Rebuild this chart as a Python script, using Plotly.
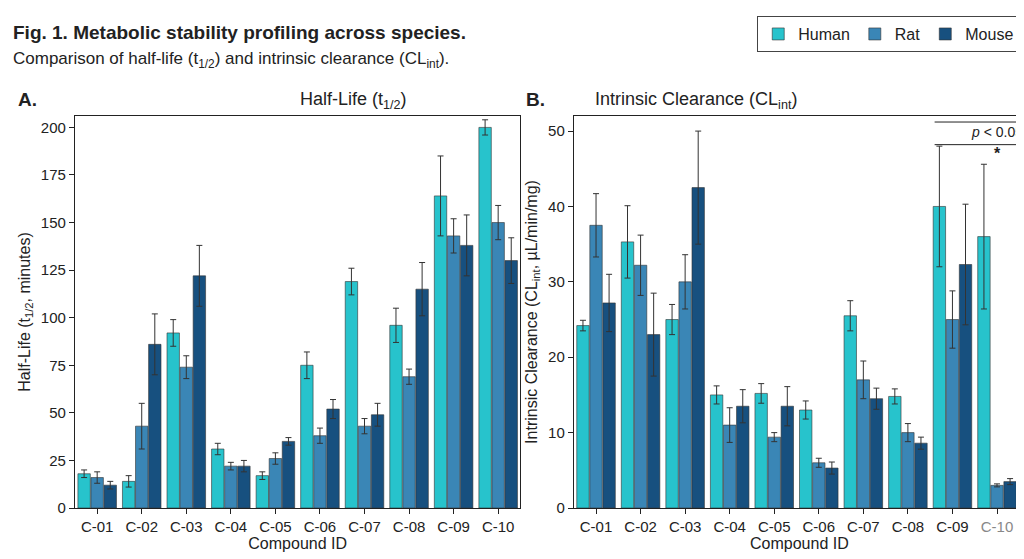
import plotly.graph_objects as go

compounds = ["C-01","C-02","C-03","C-04","C-05","C-06","C-07","C-08","C-09","C-10"]
species = ["Human","Rat","Mouse"]
colors = ["#27C3CC","#3A86B6","#17507F"]
hl = {"Human":[18,14,92,31,17,75,119,96,164,200],
      "Rat":[16,43,74,22,26,38,43,69,143,150],
      "Mouse":[12,86,122,22,35,52,49,115,138,130]}
hl_err = {"Human":[2,3,7,3,2,7,7,9,21,4],
          "Rat":[3,12,6,2,3,4,4,4,9,9],
          "Mouse":[2,16,16,3,2,5,6,14,16,12]}
cl = {"Human":[24.2,35.3,25,15,15.2,13,25.5,14.8,40,36],
      "Rat":[37.5,32.2,30,11,9.4,6,17,10,25,3],
      "Mouse":[27.2,23,42.5,13.5,13.5,5.3,14.5,8.6,32.3,3.5]}
cl_err = {"Human":[0.7,4.8,2,1.2,1.3,1.2,2,1,8,9.6],
          "Rat":[4.2,4,3.6,2.3,0.6,0.6,2.5,1.2,3.8,0.2],
          "Mouse":[3.8,5.5,7.5,2.2,2.6,0.8,1.4,0.8,8,0.4]}

fig = go.Figure()
for s, c in zip(species, colors):
    fig.add_trace(go.Bar(x=compounds, y=hl[s], name=s, marker=dict(color=c, line=dict(color="#333", width=0.6)),
        error_y=dict(type="data", array=hl_err[s], color="#333", thickness=1, width=3), xaxis="x", yaxis="y"))
    fig.add_trace(go.Bar(x=compounds, y=cl[s], name=s, showlegend=False, marker=dict(color=c, line=dict(color="#333", width=0.6)),
        error_y=dict(type="data", array=cl_err[s], color="#333", thickness=1, width=3), xaxis="x2", yaxis="y2"))

ax = dict(showline=True, linecolor="#222", mirror=True, ticks="outside", tickcolor="#222",
          tickfont=dict(size=15, color="#222"), showgrid=False, zeroline=False)
fig.update_layout(
    width=1024, height=559, barmode="group", bargap=0.12, bargroupgap=0.05,
    plot_bgcolor="white", paper_bgcolor="white",
    font=dict(family="Liberation Sans, Arial", color="#222"),
    margin=dict(l=65, r=7, t=108, b=59),
    xaxis=dict(domain=[0.002,0.47], title=dict(text="Compound ID", font=dict(size=16), standoff=2), **ax),
    yaxis=dict(range=[0,206], tickvals=[0,25,50,75,100,125,150,175,200],
               title=dict(text="Half-Life (t<sub>1/2</sub>, minutes)", font=dict(size=16), standoff=6), **ax),
    xaxis2=dict(domain=[0.526,1.0], anchor="y2", title=dict(text="Compound ID", font=dict(size=16), standoff=2),
                tickvals=compounds, ticktext=compounds[:-1]+["<span style='color:#888'>C-10</span>"], **ax),
    yaxis2=dict(range=[0,52], anchor="x2", tickvals=[0,10,20,30,40,50],
                title=dict(text="Intrinsic Clearance (CL<sub>int</sub>, µL/min/mg)", font=dict(size=16), standoff=6), **ax),
    legend=dict(orientation="h", x=0.995, xanchor="right", y=1.255, yanchor="top",
                bordercolor="#444", borderwidth=1, font=dict(size=16)),
)
ann = [
    dict(x=0.0, y=1.245, xref="paper", yref="paper", yanchor="top", xanchor="left", xshift=-62,
         text="<b>Fig. 1. Metabolic stability profiling across species.</b>", font=dict(size=19), showarrow=False),
    dict(x=0.0, y=1.175, xref="paper", yref="paper", yanchor="top", xanchor="left", xshift=-62,
         text="Comparison of half-life (t<sub>1/2</sub>) and intrinsic clearance (CL<sub>int</sub>).", font=dict(size=17), showarrow=False),
    dict(x=0.0, y=1.0, xref="paper", yref="paper", xanchor="left", yanchor="bottom", xshift=-57, yshift=4,
         text="<b>A.</b>", font=dict(size=19), showarrow=False),
    dict(x=0.236, y=1.0, xref="paper", yref="paper", yanchor="bottom", yshift=2,
         text="Half-Life (t<sub>1/2</sub>)", font=dict(size=18), showarrow=False),
    dict(x=0.526, y=1.0, xref="paper", yref="paper", xanchor="left", yanchor="bottom", xshift=-50, yshift=4,
         text="<b>B.</b>", font=dict(size=19), showarrow=False),
    dict(x=0.763, y=1.0, xref="paper", yref="paper", yanchor="bottom", yshift=2,
         text="Intrinsic Clearance (CL<sub>int</sub>)", font=dict(size=18), showarrow=False),
    dict(x=9.0, y=48.5, xref="x2", yref="y2", yanchor="bottom", text="<i>p</i> < 0.05", font=dict(size=14), showarrow=False),
    dict(x=9.0, y=45.6, xref="x2", yref="y2", yanchor="bottom", text="<b>*</b>", font=dict(size=16), showarrow=False),
]
fig.update_layout(annotations=ann)
fig.add_shape(type="line", xref="x2", yref="y2", x0=7.6, x1=9.5, y0=51.2, y1=51.2, line=dict(color="#222", width=1))
fig.add_shape(type="line", xref="x2", yref="y2", x0=7.6, x1=9.5, y0=48.2, y1=48.2, line=dict(color="#222", width=1))
fig.write_html("out.html")
